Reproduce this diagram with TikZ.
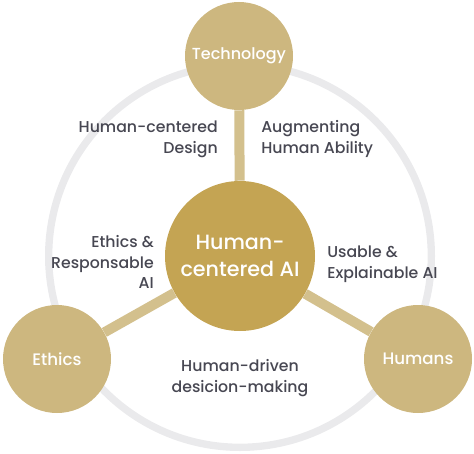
\documentclass[tikz,border=0pt]{standalone}
\usepackage{fontspec}
\setmainfont{Poppins}
\newfontfamily\medfont{Poppins Medium}
\definecolor{goldC}{HTML}{C4A453}
\definecolor{goldO}{HTML}{CDB77F}
\definecolor{goldL}{HTML}{D3C08D}
\definecolor{ringgrey}{HTML}{EAEAEC}
\definecolor{txtgrey}{HTML}{474752}
\begin{document}
\begin{tikzpicture}[x=0.75pt,y=-0.75pt,
  outer/.style={circle,fill=goldO,minimum size=81pt,inner sep=0pt,text=white,font=\medfont\fontsize{12.5}{14}\selectfont},
  centre/.style={circle,fill=goldC,minimum size=112.5pt,inner sep=0pt,text=white,align=center,font=\medfont\fontsize{15.5}{20}\selectfont},
  spoke/.style={draw=goldL,line width=7.5pt},
  lbl/.style={text=txtgrey,inner sep=0pt,font=\medfont\fontsize{11.8}{15.5}\selectfont}]
\useasboundingbox (0,0) rectangle (474,453);
\coordinate (O) at (240,256);
\draw[ringgrey,line width=5.5pt] (O) circle[radius=143.5pt];
\node[centre] (hc) at (O) {Human-\\centered AI};
\node[outer,font=\medfont\fontsize{12}{14}\selectfont] (tech) at (239,56) {Technology};
\node[outer] (eth) at (57,359) {Ethics};
\node[outer] (hum) at (418,359) {Humans};
\draw[spoke] (hc) -- (tech);
\draw[spoke] (hc) -- (eth);
\draw[spoke] (hc) -- (hum);
\node[lbl,align=right,anchor=east] (l1) at (218,139) {Human-centered\\Design};
\node[lbl,align=left,anchor=west] (l2) at (261,139) {Augmenting\\Human Ability};
\node[lbl,align=right,anchor=east] (l3) at (154,262) {Ethics \&\\Responsable\\AI};
\node[lbl,align=left,anchor=west] (l4) at (327,264) {Usable \&\\Explainable AI};
\node[lbl,align=center] (l5) at (240,378) {Human-driven\\desicion-making};
\end{tikzpicture}
\end{document}
